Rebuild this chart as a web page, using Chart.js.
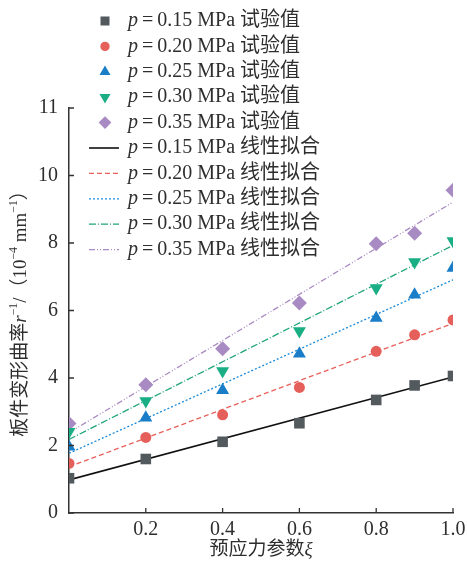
<!DOCTYPE html>
<html>
<head>
<meta charset="utf-8">
<script src="https://cdn.jsdelivr.net/npm/chart.js@4"></script>
<style>
  html, body { margin: 0; padding: 0; background: #fff; }
  #wrap { width: 467px; height: 569px; }
</style>
</head>
<body>
<div id="wrap"><canvas id="curveChart"></canvas></div>
<script>
// prestress parameter (x) and tested curvature values, 10^-4 mm^-1
let xValues = [0, 0.2, 0.4, 0.6, 0.8, 0.9, 1.0];
let pressures = ["0.15", "0.20", "0.25", "0.30", "0.35"];
let test015 = [1.03, 1.60, 2.11, 2.66, 3.35, 3.78, 4.06];
let test020 = [1.47, 2.24, 2.91, 3.72, 4.79, 5.28, 5.72];
let test025 = [1.96, 2.82, 3.64, 4.72, 5.78, 6.47, 7.26];
let test030 = [2.41, 3.32, 4.21, 5.39, 6.67, 7.44, 8.06];
let test035 = [2.65, 3.80, 4.87, 6.22, 7.98, 8.29, 9.56];

// linear fits, value at x = 0 and x = 1
let fitX = [0, 1.0];
let fit015 = [0.98, 4.03];
let fit020 = [1.37, 5.62];
let fit025 = [1.77, 6.91];
let fit030 = [2.18, 7.93];
let fit035 = [2.38, 9.21];

let xTicks = [0.2, 0.4, 0.6, 0.8, 1.0];
let yTickLabels = ["0", "2", "4", "6", "8", "10", "11"];

const FONT = "'Liberation Serif', 'Noto Sans CJK SC', serif";
const TEXT = "#2e2e2e";

let pointColors = ["#535a5e", "#e6605b", "#1a7dc8", "#1aae85", "#a98bc3"];
let pointStyles = ["rect", "circle", "triangle", "triangle", "rectRot"];
let pointRotations = [0, 0, 0, 180, 0];
let pointSizes = [7.5, 5.5, 7.5, 7.5, 7.5];
let lineColors = ["#111111", "#e8605a", "#1a8ad8", "#1fa57c", "#a98bc3"];
let lineDashes = [[], [5, 3], [2, 2], [7, 2, 1, 2], [6, 2, 1, 2, 1, 2]];

let tests = [test015, test020, test025, test030, test035];
let fits = [fit015, fit020, fit025, fit030, fit035];

let datasets = [];
tests.forEach((vals, i) => {
  datasets.push({
    label: "试验值",
    p: pressures[i],
    data: xValues.map((x, k) => ({ x: x, y: vals[k] })),
    showLine: false,
    pointStyle: pointStyles[i],
    rotation: pointRotations[i],
    pointRadius: pointSizes[i],
    pointBackgroundColor: pointColors[i],
    pointBorderColor: pointColors[i],
    pointBorderWidth: 0,
    order: 1,
  });
});
fits.forEach((vals, i) => {
  datasets.push({
    label: "线性拟合",
    p: pressures[i],
    data: fitX.map((x, k) => ({ x: x, y: vals[k] })),
    showLine: true,
    borderColor: lineColors[i],
    borderWidth: i === 0 ? 1.6 : 1.3,
    borderDash: lineDashes[i],
    pointRadius: 0,
    order: 2,
  });
});

function drawRich(ctx, parts, x, y, size) {
  for (const p of parts) {
    const fs = p.sup ? size * 0.62 : size;
    ctx.font = (p.it ? "italic " : "") + fs + "px " + FONT;
    ctx.fillText(p.t, x, p.sup ? y - size * 0.36 : y);
    x += ctx.measureText(p.t).width;
  }
  return x;
}

function richWidth(ctx, parts, size) {
  let w = 0;
  for (const p of parts) {
    const fs = p.sup ? size * 0.62 : size;
    ctx.font = (p.it ? "italic " : "") + fs + "px " + FONT;
    w += ctx.measureText(p.t).width;
  }
  return w;
}

const decorPlugin = {
  id: "decor",
  afterDraw(chart) {
    const ctx = chart.ctx;
    const area = chart.chartArea;
    const xs = chart.scales.x;
    const ys = chart.scales.y;
    ctx.save();

    // inward tick marks
    ctx.strokeStyle = "#333";
    ctx.lineWidth = 1.3;
    ctx.beginPath();
    ys.ticks.forEach((t) => {
      const py = ys.getPixelForValue(t.value);
      ctx.moveTo(area.left, py);
      ctx.lineTo(area.left + 5, py);
    });
    xs.ticks.forEach((t) => {
      const px = xs.getPixelForValue(t.value);
      ctx.moveTo(px, area.bottom);
      ctx.lineTo(px, area.bottom - 5);
    });
    ctx.stroke();

    // legend
    ctx.textBaseline = "middle";
    ctx.textAlign = "left";
    chart.data.datasets.forEach((ds, i) => {
      const cy = 21 + i * 25.4;
      if (ds.showLine) {
        ctx.save();
        ctx.strokeStyle = ds.borderColor;
        ctx.lineWidth = ds.borderWidth;
        ctx.setLineDash(ds.borderDash);
        ctx.beginPath();
        ctx.moveTo(89, cy);
        ctx.lineTo(119, cy);
        ctx.stroke();
        ctx.restore();
      } else {
        ctx.fillStyle = ds.pointBackgroundColor;
        ctx.strokeStyle = ds.pointBorderColor;
        Chart.helpers.drawPoint(ctx, {
          pointStyle: ds.pointStyle,
          rotation: ds.rotation,
          radius: ds.pointRadius * 0.85,
          borderWidth: 0,
        }, 105, cy);
      }
      ctx.fillStyle = TEXT;
      drawRich(ctx, [
        { t: "p", it: true },
        { t: "\u2009=\u2009" + ds.p + " MPa " + ds.label },
      ], 128, cy, 20);
    });

    // x title
    ctx.fillStyle = TEXT;
    const xParts = [{ t: "预应力参数" }, { t: "ξ", it: true }];
    const xw = richWidth(ctx, xParts, 19);
    drawRich(ctx, xParts, (area.left + area.right) / 2 - xw / 2, 550, 19);

    // y title
    const yParts = [
      { t: "板件变形曲率" }, { t: "r", it: true }, { t: "−1", sup: true },
      { t: "/（10" }, { t: "−4", sup: true }, { t: " mm" }, { t: "−1", sup: true }, { t: "）" },
    ];
    ctx.translate(21, 309);
    ctx.rotate(-Math.PI / 2);
    const yw = richWidth(ctx, yParts, 19);
    drawRich(ctx, yParts, -yw / 2, 0, 19);
    ctx.restore();
  },
};

new Chart("curveChart", {
  type: "scatter",
  data: { datasets: datasets },
  options: {
    responsive: true,
    maintainAspectRatio: false,
    animation: false,
    layout: { padding: { top: 108, right: 14, left: 0, bottom: 0 } },
    plugins: {
      legend: { display: false },
      tooltip: { enabled: false },
    },
    scales: {
      x: {
        type: "linear",
        min: 0,
        max: 1,
        afterBuildTicks: (scale) => {
          scale.ticks = xTicks.map((v) => ({ value: v }));
        },
        afterFit: (scale) => {
          scale.height = 56;
          scale.paddingLeft = 0;
          scale.paddingRight = 0;
        },
        grid: { display: false, drawTicks: false },
        border: { display: true, color: "#333", width: 1.5 },
        ticks: {
          padding: 5,
          maxRotation: 0,
          color: TEXT,
          font: { family: FONT, size: 20 },
          callback: (v) => Number(v).toFixed(1),
        },
      },
      y: {
        min: 0,
        max: 12,
        afterFit: (scale) => {
          scale.width = 69;
          scale.paddingTop = 0;
          scale.paddingBottom = 0;
        },
        grid: { display: false, drawTicks: false },
        border: { display: true, color: "#333", width: 1.5 },
        ticks: {
          stepSize: 2,
          padding: 11,
          color: TEXT,
          font: { family: FONT, size: 20 },
          callback: (v, i) => yTickLabels[i],
        },
      },
    },
  },
  plugins: [decorPlugin],
});
</script>
</body>
</html>
